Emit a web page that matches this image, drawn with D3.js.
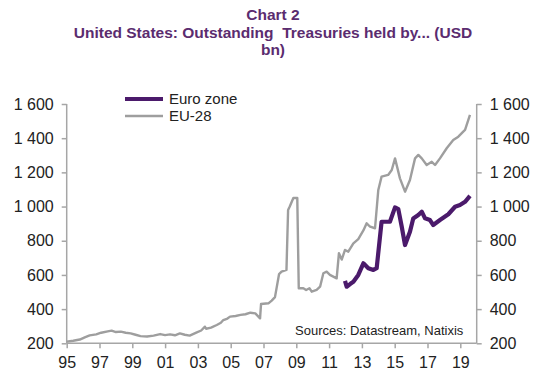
<!DOCTYPE html>
<html>
<head>
<meta charset="utf-8">
<script src="https://cdn.jsdelivr.net/npm/d3@7"></script>
<style>
  body { margin: 0; background: #fff; }
  svg { display: block; font-family: "Liberation Sans", Arial, sans-serif; }
</style>
</head>
<body>
<svg id="chart" width="534" height="377"></svg>
<script>
// ---- Data ----
const titleLines = ["Chart 2", "United States: Outstanding  Treasuries held by... (USD", "bn)"];
const seriesNames = ["Euro zone", "EU-28"];
const xTickYears = [1995, 1997, 1999, 2001, 2003, 2005, 2007, 2009, 2011, 2013, 2015, 2017, 2019];
const yTicks = [200, 400, 600, 800, 1000, 1200, 1400, 1600];
const sourceText = "Sources: Datastream, Natixis";

// EU-28 (time in fractional years, values in USD bn)
const eu28Years = [1995.0, 1995.4, 1995.8, 1996.1, 1996.4, 1996.8, 1997.1, 1997.5, 1997.74, 1998.0, 1998.3, 1998.6, 1998.9, 1999.2, 1999.5, 1999.9, 2000.3, 2000.7, 2001.0, 2001.3, 2001.6, 2001.9, 2002.2, 2002.5, 2002.9, 2003.2, 2003.43, 2003.5, 2003.8, 2004.15, 2004.4, 2004.55, 2004.8, 2004.96, 2005.3, 2005.6, 2005.9, 2006.2, 2006.5, 2006.79, 2006.85, 2007.3, 2007.5, 2007.7, 2007.95, 2008.1, 2008.4, 2008.5, 2008.6, 2008.82, 2009.06, 2009.15, 2009.43, 2009.6, 2009.8, 2009.94, 2010.24, 2010.45, 2010.65, 2010.85, 2011.05, 2011.46, 2011.6, 2011.77, 2011.97, 2012.17, 2012.48, 2012.78, 2013.09, 2013.29, 2013.5, 2013.8, 2014.0, 2014.2, 2014.6, 2014.82, 2015.02, 2015.32, 2015.63, 2015.93, 2016.24, 2016.44, 2016.65, 2016.95, 2017.26, 2017.46, 2017.76, 2018.17, 2018.57, 2018.88, 2019.18, 2019.29, 2019.59];
const eu28Values = [210, 215, 222, 235, 246, 252, 262, 270, 274, 266, 268, 262, 258, 250, 242, 240, 245, 254, 248, 252, 247, 258, 250, 245, 262, 275, 297, 285, 292, 307, 320, 336, 345, 356, 360, 366, 370, 379, 375, 346, 430, 434, 450, 470, 605, 619, 629, 980, 1000, 1050, 1050, 522, 522, 512, 522, 502, 512, 531, 610, 619, 600, 580, 727, 690, 746, 736, 785, 810, 860, 902, 882, 873, 1097, 1175, 1185, 1214, 1282, 1165, 1087, 1155, 1282, 1302, 1282, 1243, 1262, 1243, 1282, 1341, 1389, 1409, 1438, 1448, 1536];

// Euro zone
const ezYears = [2011.97, 2012.07, 2012.3, 2012.48, 2012.78, 2013.09, 2013.39, 2013.7, 2013.9, 2014.2, 2014.71, 2015.02, 2015.22, 2015.43, 2015.63, 2015.93, 2016.13, 2016.44, 2016.65, 2016.85, 2017.15, 2017.35, 2017.76, 2018.27, 2018.68, 2018.98, 2019.29, 2019.59];
const ezValues = [565, 531, 548, 560, 600, 668, 639, 629, 639, 911, 911, 995, 985, 882, 775, 853, 930, 951, 970, 931, 921, 892, 921, 955, 999, 1009, 1028, 1062];

// ---- Chart ----
const svg = d3.select("#chart");
const pLeft = 66.7, pRight = 476.7, pTop = 104, pBottom = 343.3;
const axisColor = "#a6a6a6";
const titleColor = "#5b2c6f";
const ezColor = "#4b1a6b";
const euColor = "#9e9e9e";

const x = d3.scaleLinear().domain([1995, 2020]).range([pLeft, pRight]);
const y = d3.scaleLinear().domain([200, 1600]).range([pBottom, pTop]);

// Title
const titleY = [20, 38, 55];
svg.append("g").selectAll("text").data(titleLines).join("text")
  .attr("x", 273).attr("y", (d, i) => titleY[i])
  .attr("text-anchor", "middle")
  .attr("font-size", 15.5).attr("font-weight", "bold")
  .attr("fill", titleColor)
  .style("white-space", "pre")
  .text(d => d);

const fmtY = v => d3.format(",")(v).replace(",", " ");

// Left axis
const gL = svg.append("g").attr("transform", `translate(${pLeft},0)`)
  .call(d3.axisLeft(y).tickValues(yTicks).tickFormat(fmtY).tickSize(5).tickPadding(8));
// Right axis
const gR = svg.append("g").attr("transform", `translate(${pRight},0)`)
  .call(d3.axisRight(y).tickValues(yTicks).tickFormat(fmtY).tickSize(5).tickPadding(8));
// Bottom axis
const gB = svg.append("g").attr("transform", `translate(0,${pBottom})`)
  .call(d3.axisBottom(x).tickValues(xTickYears)
    .tickFormat(v => String(v % 100).padStart(2, "0")).tickSize(5).tickPadding(8));

[gL, gR, gB].forEach(g => {
  g.select(".domain").attr("stroke", axisColor).attr("stroke-width", 1.5);
  g.selectAll(".tick line").attr("stroke", axisColor).attr("stroke-width", 1.5);
  g.selectAll(".tick text").attr("fill", "#222").attr("font-size", 16)
    .attr("font-family", "\"Liberation Sans\", Arial, sans-serif");
});
gL.select(".domain").attr("d", `M0,${pTop}V${pBottom}`);
gR.select(".domain").attr("d", `M0,${pTop}V${pBottom}`);
gB.select(".domain").attr("d", `M${pLeft},0H${pRight}`);

// Lines
const line = d3.line().x(d => x(d[0])).y(d => y(d[1]));
const euData = eu28Years.map((t, i) => [t, eu28Values[i]]);
const ezData = ezYears.map((t, i) => [t, ezValues[i]]);

svg.append("path").datum(euData)
  .attr("d", line).attr("fill", "none")
  .attr("stroke", euColor).attr("stroke-width", 2.4).attr("stroke-linejoin", "round");
svg.append("path").datum(ezData)
  .attr("d", line).attr("fill", "none")
  .attr("stroke", ezColor).attr("stroke-width", 4.2).attr("stroke-linejoin", "round");

// Legend
const legY = [99, 116];
const legColors = [ezColor, euColor];
const legWidths = [4.2, 2.4];
const leg = svg.append("g");
seriesNames.forEach((name, i) => {
  leg.append("line").attr("x1", 125).attr("x2", 163).attr("y1", legY[i]).attr("y2", legY[i])
    .attr("stroke", legColors[i]).attr("stroke-width", legWidths[i]);
  leg.append("text").attr("x", 169).attr("y", legY[i] + 5)
    .attr("font-size", 15).attr("fill", "#222").text(name);
});

// Source note
svg.append("text").attr("x", 295).attr("y", 335)
  .attr("font-size", 13).attr("fill", "#222").text(sourceText);
</script>
</body>
</html>
